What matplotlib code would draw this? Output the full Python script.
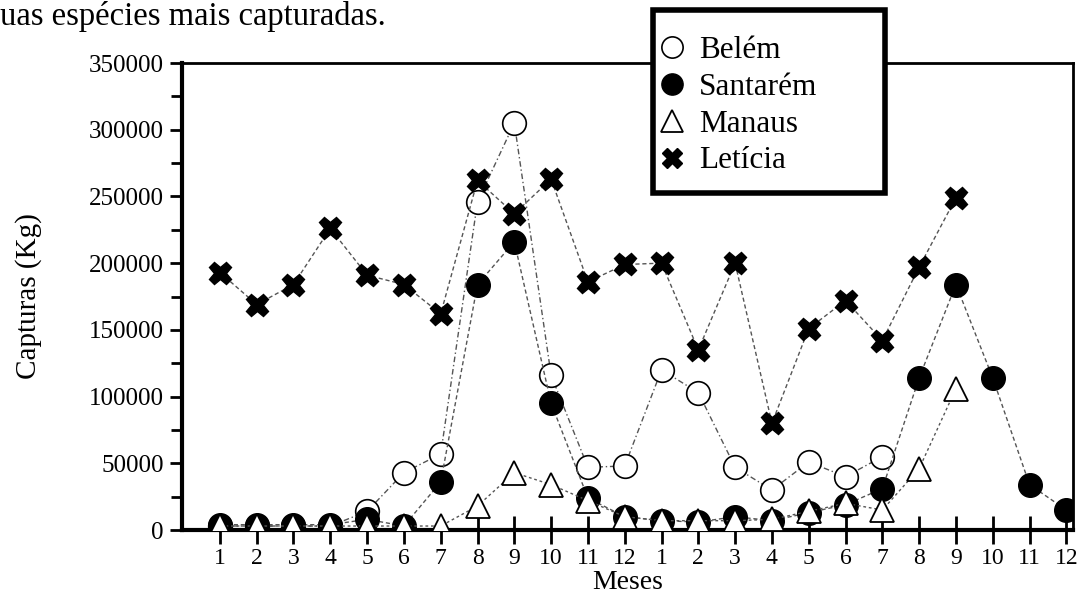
import matplotlib.pyplot as plt
from matplotlib.patches import Rectangle
import numpy as np

plt.rcParams['font.family'] = ['Liberation Serif', 'DejaVu Serif']

# meses (dois anos seguidos)
meses = [str(m) for m in range(1, 13)] * 2

# capturas em kg
belem = [3000, 3000, 3000, 3000, 14000, 43000, 57000, 246000, 305000, 116000,
         47000, 48000, 120000, 103000, 47000, 30000, 51000, 40000, 55000]
santarem = [4000, 4000, 4000, 4000, 8000, 3000, 36000, 184000, 216000, 95000,
            24000, 10000, 7000, 6000, 10000, 7000, 13000, 19000, 31000, 114000,
            184000, 114000, 34000, 15000]
manaus = [3000, 3000, 3000, 3000, 3000, 3000, 3000, 18000, 43000, 34000,
          22000, 10000, 7000, 7000, 7000, 8000, 14000, 20000, 15000, 46000,
          106000]
leticia = [193000, 169000, 184000, 226000, 191000, 184000, 162000, 262000,
           237000, 263000, 186000, 199000, 200000, 135000, 200000, 80000,
           151000, 172000, 142000, 197000, 249000]

fig = plt.figure(figsize=(10.8, 5.95), dpi=100)
ax = fig.add_axes([0.1685, 0.1092, 0.8250, 0.7849])

x_b = np.arange(1, len(belem) + 1)
x_s = np.arange(1, len(santarem) + 1)
x_m = np.arange(1, len(manaus) + 1)
x_l = np.arange(1, len(leticia) + 1)

lc = '#555555'
ax.plot(x_b, belem, ls=(0, (4, 2, 1, 2)), lw=1, color=lc, marker='o', ms=17,
        mfc='white', mec='black', mew=1.2, label='Belém', zorder=2)
ax.plot(x_s, santarem, ls=(0, (3, 2)), lw=1, color=lc, marker='o', ms=17,
        mfc='black', mec='black', label='Santarém', zorder=3)
ax.plot(x_m, manaus, ls=(0, (2, 2)), lw=1, color=lc, marker='^', ms=17,
        mfc='white', mec='black', mew=1.3, label='Manaus', zorder=4)
ax.plot(x_l, leticia, ls=(0, (3, 2)), lw=1, color=lc, marker='X', ms=16,
        mfc='black', mec='black', label='Letícia', zorder=5)

ax.set_xlim(-0.03, 24.18)
ax.set_ylim(0, 350000)
ax.set_xticks(np.arange(1, 25))
ax.set_xticklabels(meses, fontsize=17)
ax.set_yticks(np.arange(0, 350001, 50000))
ax.set_yticks(np.arange(25000, 350000, 50000), minor=True)
ax.tick_params(axis='y', labelsize=18, direction='out', length=9, width=2,
               pad=4)
ax.tick_params(axis='y', which='minor', direction='out', length=8, width=2)
ax.tick_params(axis='x', direction='inout', length=20, width=2, pad=3)

for s in ['left', 'bottom']:
    ax.spines[s].set_linewidth(3)
for s in ['top', 'right']:
    ax.spines[s].set_linewidth(2)

ax.set_xlabel('Meses', fontsize=20, labelpad=1)
ax.set_ylabel('Capturas (Kg)', fontsize=21, labelpad=34)

# caixa da legenda
box = Rectangle((653 / 1080, 1 - 193 / 595), 232 / 1080, 183 / 595,
                transform=fig.transFigure, facecolor='white',
                edgecolor='black', linewidth=4, zorder=9, clip_on=False)
ax.add_patch(box)

leg = ax.legend(loc='upper left', bbox_to_anchor=(633 / 1080, 1 - 11 / 595),
                bbox_transform=fig.transFigure, frameon=False,
                fontsize=22.5, handlelength=0.9, handletextpad=0.4,
                labelspacing=0.25, borderpad=0.3, markerscale=0.9)
for h in leg.get_lines():
    h.set_linestyle('none')
leg.set_zorder(10)

fig.text(0.0, 1 - 17 / 595, 'uas espécies mais capturadas.', fontsize=23.5,
         va='center', ha='left')

fig.savefig('out.png', dpi=100)
